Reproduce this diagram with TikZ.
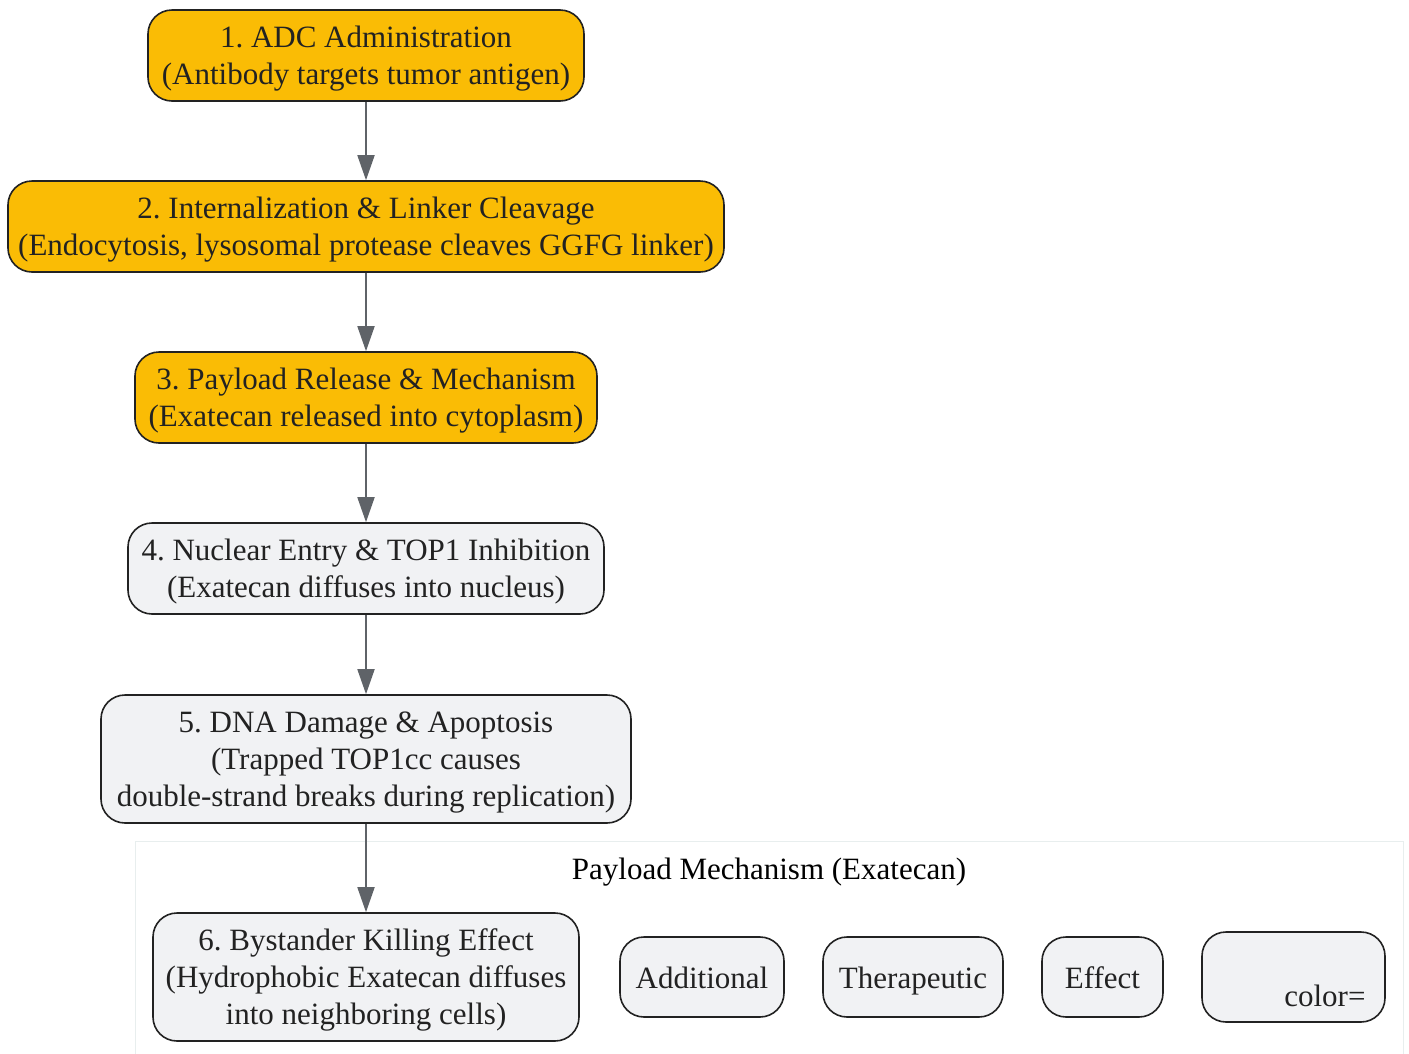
\documentclass[tikz,border=0pt]{standalone}
\usepackage{fontspec}
\setmainfont{Liberation Serif}
\usetikzlibrary{arrows.meta}
\definecolor{orangefill}{RGB}{250,188,5}
\definecolor{greyfill}{RGB}{241,242,244}
\definecolor{edgegrey}{RGB}{95,99,104}
\definecolor{strokedark}{RGB}{34,34,34}
\definecolor{clusterline}{RGB}{232,238,238}
\begin{document}
\frenchspacing
\begin{tikzpicture}[x=1pt,y=-1pt,
  txt/.style={font=\fontsize{31}{37}\selectfont,text=strokedark},
  box/.style={txt,draw=strokedark,line width=1.6pt,rounded corners=24pt,inner sep=0pt,
    align=center,text depth=-4pt},
  oneline/.style={text height=22pt,text depth=0pt},
  orangebox/.style={box,fill=orangefill},
  greybox/.style={box,fill=greyfill},
  flow/.style={draw=edgegrey,line width=1.8pt,-{Triangle[length=25pt,width=17pt]}}]
\useasboundingbox (0,0) rectangle (1409,1053);
\draw[clusterline,line width=1pt] (135,841) rectangle (1403,1070);
\node[txt,text=black] (title) at (769,872) {Payload Mechanism (Exatecan)};
\node[orangebox,minimum width=436pt,minimum height=91pt] (n1) at (366,55.5) {1. ADC Administration\\(Antibody targets tumor antigen)};
\node[orangebox,minimum width=716pt,minimum height=91pt] (n2) at (366,226.5) {2. Internalization \& Linker Cleavage\\(Endocytosis, lysosomal protease cleaves GGFG linker)};
\node[orangebox,minimum width=462pt,minimum height=91pt] (n3) at (366,397.5) {3. Payload Release \& Mechanism\\(Exatecan released into cytoplasm)};
\node[greybox,minimum width=476pt,minimum height=91pt] (n4) at (366,568.5) {4. Nuclear Entry \& TOP1 Inhibition\\(Exatecan diffuses into nucleus)};
\node[greybox,minimum width=530pt,minimum height=128pt] (n5) at (366,759) {5. DNA Damage \& Apoptosis\\(Trapped TOP1cc causes\\double-strand breaks during replication)};
\node[greybox,minimum width=426pt,minimum height=128pt] (n6) at (366,977) {6. Bystander Killing Effect\\(Hydrophobic Exatecan diffuses\\into neighboring cells)};
\node[greybox,oneline,minimum width=164pt,minimum height=80pt] (a1) at (702,977) {Additional};
\node[greybox,oneline,minimum width=180pt,minimum height=80pt] (a2) at (913,977) {Therapeutic};
\node[greybox,oneline,minimum width=121pt,minimum height=80pt] (a3) at (1102.5,977) {Effect};
\node[greybox,minimum width=183pt,minimum height=90pt] (a4) at (1293.5,977) {};
\node[txt,anchor=base east] (a4t) at (1369,1006) {color=};
\draw[flow] (n1) -- (n2);
\draw[flow] (n2) -- (n3);
\draw[flow] (n3) -- (n4);
\draw[flow] (n4) -- (n5);
\draw[flow] (n5) -- (n6);
\end{tikzpicture}
\end{document}
